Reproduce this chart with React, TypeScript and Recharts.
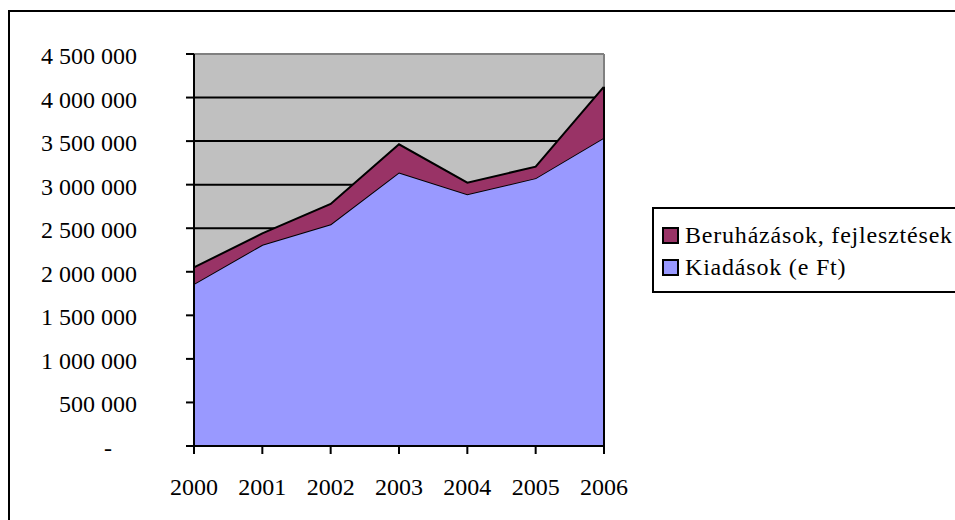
import { AreaChart, Area, XAxis, YAxis, CartesianGrid, ReferenceLine } from "recharts";

const years = ["2000", "2001", "2002", "2003", "2004", "2005", "2006"];
const kiadasok = [1860000, 2310000, 2545000, 3140000, 2890000, 3075000, 3540000];
const beruhazasok = [190000, 130000, 233000, 323000, 133000, 132000, 585000];
const yTicks = [0, 500000, 1000000, 1500000, 2000000, 2500000, 3000000, 3500000, 4000000, 4500000];

const series = [
    { key: "beruhazasok", name: "Beruházások, fejlesztések", color: "#993366" },
    { key: "kiadasok", name: "Kiadások (e Ft)", color: "#9999FF" },
];

const data = years.map((year, i) => ({
    year,
    kiadasok: kiadasok[i],
    beruhazasok: beruhazasok[i],
}));

const lastYear = years[years.length - 1];
const lastTotal = kiadasok[kiadasok.length - 1] + beruhazasok[beruhazasok.length - 1];

const font = "Liberation Serif, Tinos, DejaVu Serif, serif";

const fmt = (v: number) => v.toLocaleString("en-US").replace(/,/g, " ");

function YTick({ x, y, payload }: any) {
    const v = payload.value;
    return (
        <text
            x={v === 0 ? x - 25 : x}
            y={y}
            dy={10}
            textAnchor="end"
            fill="#000"
            fontSize={24}
            style={{ fontFamily: font }}
        >
            {v === 0 ? "-" : fmt(v)}
        </text>
    );
}

function XTick({ x, y, payload }: any) {
    return (
        <text x={x} y={y} dy={17} textAnchor="middle" fill="#000" fontSize={24} style={{ fontFamily: font }}>
            {payload.value}
        </text>
    );
}

export default function App() {
    return (
        <div
            style={{
                position: "fixed",
                left: 0,
                top: 0,
                width: 955,
                height: 520,
                overflow: "hidden",
                background: "#fff",
            }}
        >
            <div
                style={{
                    position: "absolute",
                    left: 8,
                    top: 10,
                    width: 980,
                    height: 540,
                    border: "2px solid #000",
                }}
            />
            <div style={{ position: "absolute", left: 0, top: 0 }}>
                <AreaChart
                    width={955}
                    height={520}
                    data={data}
                    margin={{ top: 54, right: 351, left: 0, bottom: 0 }}
                >
                    <CartesianGrid
                        vertical={false}
                        stroke="#000"
                        strokeWidth={2}
                        fill="#C0C0C0"
                        fillOpacity={1}
                        horizontalValues={[500000, 1000000, 1500000, 2000000, 2500000, 3000000, 3500000, 4000000]}
                    />
                    <XAxis
                        dataKey="year"
                        height={74}
                        tickSize={8}
                        tickMargin={24}
                        axisLine={{ stroke: "#000", strokeWidth: 2 }}
                        tickLine={{ stroke: "#000", strokeWidth: 2 }}
                        tick={<XTick />}
                        interval={0}
                    />
                    <YAxis
                        width={194}
                        domain={[0, 4500000]}
                        ticks={yTicks}
                        tickSize={8}
                        tickMargin={49}
                        axisLine={{ stroke: "#000", strokeWidth: 2 }}
                        tickLine={{ stroke: "#000", strokeWidth: 2 }}
                        tick={<YTick />}
                        interval={0}
                    />
                    <ReferenceLine y={4500000} stroke="#808080" strokeWidth={2} />
                    <ReferenceLine x={lastYear} stroke="#808080" strokeWidth={2} />
                    <Area
                        type="linear"
                        dataKey="kiadasok"
                        stackId="1"
                        stroke="#000"
                        strokeWidth={2}
                        fill="#9999FF"
                        fillOpacity={1}
                        isAnimationActive={false}
                    />
                    <Area
                        type="linear"
                        dataKey="beruhazasok"
                        stackId="1"
                        stroke="#000"
                        strokeWidth={2}
                        fill="#993366"
                        fillOpacity={1}
                        isAnimationActive={false}
                    />
                    <ReferenceLine
                        segment={[
                            { x: lastYear, y: 0 },
                            { x: lastYear, y: lastTotal },
                        ]}
                        stroke="#000"
                        strokeWidth={2}
                    />
                </AreaChart>
            </div>
            <div
                style={{
                    position: "absolute",
                    left: 652,
                    top: 207,
                    width: 301,
                    height: 82,
                    border: "2px solid #000",
                    background: "#fff",
                    fontFamily: font,
                    fontSize: 24,
                    letterSpacing: 0.8,
                    color: "#000",
                }}
            >
                {series.map((s, i) => (
                    <div
                        key={s.key}
                        style={{
                            position: "absolute",
                            left: 8,
                            top: i === 0 ? 12 : 44,
                            height: 28,
                            display: "flex",
                            alignItems: "center",
                            whiteSpace: "nowrap",
                        }}
                    >
                        <span
                            style={{
                                display: "inline-block",
                                width: 13,
                                height: 13,
                                background: s.color,
                                border: "2px solid #000",
                                marginRight: 6,
                            }}
                        />
                        <span>{s.name}</span>
                    </div>
                ))}
            </div>
        </div>
    );
}
